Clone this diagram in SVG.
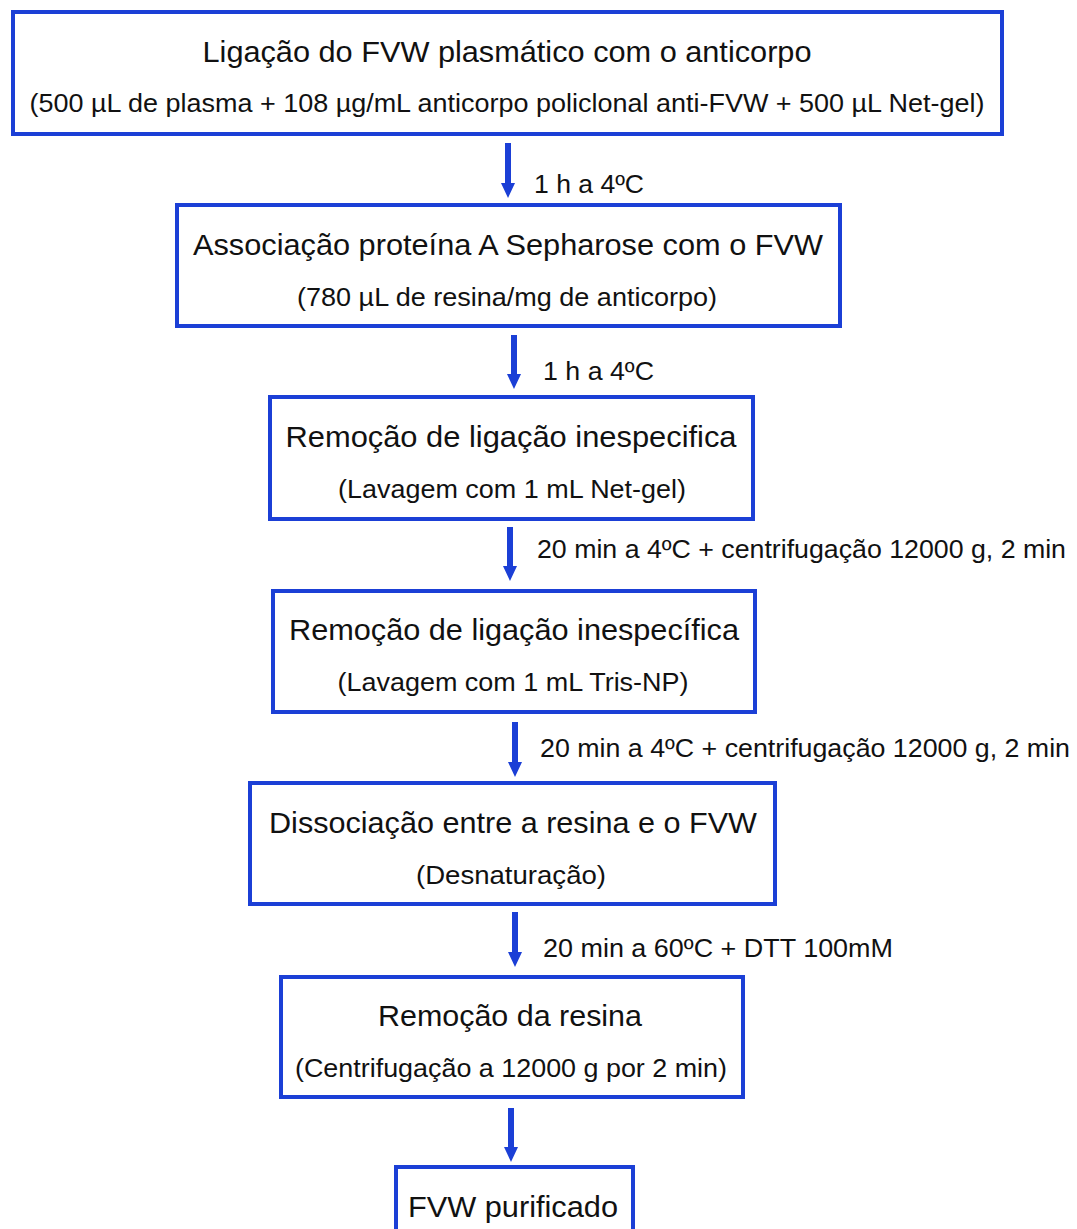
<svg xmlns="http://www.w3.org/2000/svg" width="1077" height="1229" viewBox="0 0 1077 1229">
<style>
.box{fill:#fff;stroke:#1b3fd6;stroke-width:4}
.t{font-family:"Liberation Sans",Arial,sans-serif;font-size:30px;fill:#111;text-anchor:middle}
.s{font-family:"Liberation Sans",Arial,sans-serif;font-size:26px;fill:#111;text-anchor:middle}
.l{font-family:"Liberation Sans",Arial,sans-serif;font-size:26px;fill:#111}
.arr{stroke:#1b3fd6;stroke-width:6;fill:none;marker-end:url(#ah)}
</style>
<defs>
<marker id="ah" markerUnits="userSpaceOnUse" viewBox="0 -7 15 14" refX="0" refY="0" markerWidth="15" markerHeight="14" orient="auto">
<path d="M0,-7 L15,0 L0,7 z" fill="#1b3fd6"/>
</marker>
</defs>
<rect width="1077" height="1229" fill="#fff"/>
<g id="n1">
<rect class="box" x="13" y="12" width="989" height="122"/>
<text class="t" x="507" y="62" textLength="609" lengthAdjust="spacingAndGlyphs">Ligação do FVW plasmático com o anticorpo</text>
<text class="s" x="507" y="112" textLength="955" lengthAdjust="spacingAndGlyphs">(500 µL de plasma + 108 µg/mL anticorpo policlonal anti-FVW + 500 µL Net-gel)</text>
</g>
<g id="n2">
<rect class="box" x="177" y="205" width="663" height="121"/>
<text class="t" x="508" y="255" textLength="630" lengthAdjust="spacingAndGlyphs">Associação proteína A Sepharose com o FVW</text>
<text class="s" x="507" y="306" textLength="420" lengthAdjust="spacingAndGlyphs">(780 µL de resina/mg de anticorpo)</text>
</g>
<g id="n3">
<rect class="box" x="270" y="397" width="483" height="122"/>
<text class="t" x="511" y="447" textLength="451" lengthAdjust="spacingAndGlyphs">Remoção de ligação inespecifica</text>
<text class="s" x="512" y="498" textLength="348" lengthAdjust="spacingAndGlyphs">(Lavagem com 1 mL Net-gel)</text>
</g>
<g id="n4">
<rect class="box" x="273" y="591" width="482" height="121"/>
<text class="t" x="514" y="640" textLength="450" lengthAdjust="spacingAndGlyphs">Remoção de ligação inespecífica</text>
<text class="s" x="513" y="691" textLength="351" lengthAdjust="spacingAndGlyphs">(Lavagem com 1 mL Tris-NP)</text>
</g>
<g id="n5">
<rect class="box" x="250" y="783" width="525" height="121"/>
<text class="t" x="513" y="833" textLength="488" lengthAdjust="spacingAndGlyphs">Dissociação entre a resina e o FVW</text>
<text class="s" x="511" y="884" textLength="190" lengthAdjust="spacingAndGlyphs">(Desnaturação)</text>
</g>
<g id="n6">
<rect class="box" x="281" y="977" width="462" height="120"/>
<text class="t" x="510" y="1026" textLength="264" lengthAdjust="spacingAndGlyphs">Remoção da resina</text>
<text class="s" x="511" y="1077" textLength="432" lengthAdjust="spacingAndGlyphs">(Centrifugação a 12000 g por 2 min)</text>
</g>
<g id="n7">
<rect class="box" x="396" y="1167" width="237" height="90"/>
<text class="t" x="513" y="1217" textLength="210" lengthAdjust="spacingAndGlyphs">FVW purificado</text>
</g>
<g id="connectors">
<line class="arr" x1="508" y1="143" x2="508" y2="183"/>
<line class="arr" x1="514" y1="335" x2="514" y2="374"/>
<line class="arr" x1="510" y1="527" x2="510" y2="566"/>
<line class="arr" x1="515" y1="722" x2="515" y2="762"/>
<line class="arr" x1="515" y1="912" x2="515" y2="952"/>
<line class="arr" x1="511" y1="1108" x2="511" y2="1147"/>
<text class="l" x="534" y="193" textLength="110" lengthAdjust="spacingAndGlyphs">1 h a 4ºC</text>
<text class="l" x="543" y="380" textLength="111" lengthAdjust="spacingAndGlyphs">1 h a 4ºC</text>
<text class="l" x="537" y="558" textLength="529" lengthAdjust="spacingAndGlyphs">20 min a 4ºC + centrifugação 12000 g, 2 min</text>
<text class="l" x="540" y="757" textLength="530" lengthAdjust="spacingAndGlyphs">20 min a 4ºC + centrifugação 12000 g, 2 min</text>
<text class="l" x="543" y="957" textLength="350" lengthAdjust="spacingAndGlyphs">20 min a 60ºC + DTT 100mM</text>
</g>
</svg>
